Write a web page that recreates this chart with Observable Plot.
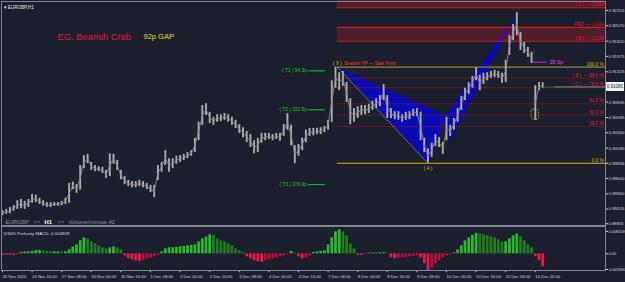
<!DOCTYPE html>
<html><head><meta charset="utf-8">
<script src="https://cdn.jsdelivr.net/npm/d3@7"></script>
<script src="https://cdn.jsdelivr.net/npm/@observablehq/plot@0.6"></script>
<style>
html,body{margin:0;padding:0;background:#1b1f2e;}
#wrap{position:relative;width:625px;height:282px;background:#1b1f2e;overflow:hidden;font-family:"Liberation Sans",Arial,sans-serif}
#main{position:absolute;left:0;top:0}
#macd{position:absolute;left:0;top:226px}
.frame{position:absolute;border:1px solid #7d838f;pointer-events:none}
#pbox{position:absolute;left:606px;width:18px;height:9px;background:#f2f2f2;color:#1b1f2e;font-size:4.5px;line-height:9px;text-align:center}
</style></head><body>
<div id="wrap">
  <div id="main"></div>
  <div id="macd"></div>
  <div class="frame" style="left:1px;top:1px;width:603px;height:223px"></div>
  <div class="frame" style="left:1px;top:226px;width:603px;height:43px"></div>
  <div id="pbox"></div>
</div>
<script>
// ---------- DATA ----------
// hourly bars, one entry every 2 bars (bar index = 2*i), 26 Nov 2020 00:00 .. 14 Dec 2020
const priceHigh = [
.8908,.8910,.8913,.8916,.8924,.8926,.8923,.8926,.8934,.8933,
.8928,.8924,.8921,.8921,.8921,.8921,.8923,.8928,.8952,.8954,
.8950,.8981,.8997,.8999,.8986,.8981,.8979,.8978,.8973,.9000,
.8999,.8989,.8973,.8963,.8957,.8955,.8955,.8957,.8955,.8952,
.8949,.8949,.8981,.8986,.9005,.8992,.8992,.8996,.8997,.8999,
.9002,.9005,.9025,.9051,.9078,.9081,.9067,.9059,.9063,.9063,
.9065,.9063,.9059,.9054,.9047,.9042,.9036,.9031,.9021,.9025,
.9033,.9033,.9033,.9031,.9033,.9033,.9047,.9065,.9046,.9013,
.9015,.9025,.9038,.9041,.9041,.9041,.9042,.9044,.9054,.9118,
.9140,.9131,.9133,.9115,.9089,.9073,.9076,.9078,.9078,.9080,
.9085,.9089,.9094,.9112,.9094,.9073,.9068,.9068,.9063,.9067,
.9068,.9072,.9073,.9067,.9025,.9008,.9017,.9031,.9026,.9018,
.9059,.9046,.9057,.9073,.9093,.9106,.9115,.9125,.9139,.9127,
.9130,.9131,.9133,.9135,.9133,.9130,.9151,.9191,.9209,.9228,
.9196,.9180,.9172,.9164,.9110,.9115,.9115];
const priceLow = [
.8900,.8902,.8903,.8907,.8910,.8911,.8910,.8913,.8920,.8921,
.8918,.8915,.8913,.8913,.8915,.8915,.8916,.8918,.8920,.8942,
.8936,.8941,.8976,.8984,.8973,.8971,.8971,.8968,.8960,.8963,
.8983,.8973,.8958,.8950,.8947,.8945,.8945,.8947,.8945,.8942,
.8937,.8929,.8957,.8970,.8981,.8970,.8976,.8983,.8986,.8989,
.8992,.8996,.9002,.9021,.9046,.9062,.9049,.9046,.9051,.9052,
.9054,.9051,.9046,.9041,.9033,.9026,.9018,.9010,.9000,.9002,
.9017,.9021,.9023,.9021,.9023,.9020,.9028,.9038,.9013,.8984,
.8996,.9005,.9018,.9028,.9029,.9031,.9031,.9034,.9038,.9051,
.9106,.9102,.9109,.9083,.9047,.9051,.9057,.9062,.9063,.9065,
.9070,.9073,.9076,.9086,.9057,.9057,.9055,.9054,.9051,.9054,
.9055,.9060,.9060,.9021,.9002,.89846,.8994,.9012,.9010,.8999,
.9021,.9028,.9038,.9051,.9070,.9086,.9096,.9106,.9118,.9102,
.9112,.9118,.9122,.9123,.9122,.9114,.9115,.9159,.9183,.9191,
.9167,.9162,.9156,.9146,.9054,.9102,.9106];
const macdValues = [
-0.00053,-0.00053,-0.00053,-0.00053,-0.00035,0.00053,0.0007,0.0007,0.00088,0.00116,
0.00116,0.00106,0.00081,0.0007,0.0007,0.0007,0.00063,0.0007,0.00141,0.00246,
0.00317,0.00458,0.00563,0.00528,0.00422,0.00352,0.00282,0.00211,0.00176,0.00211,
0.00246,0.00211,0.00141,-0.0007,-0.00176,-0.00211,-0.00246,-0.00264,-0.00229,-0.00176,
-0.00141,-0.00106,-0.00053,0.0007,0.00176,0.00211,0.00211,0.00229,0.00246,0.00264,
0.00282,0.00299,0.00317,0.00422,0.00528,0.00598,0.00669,0.00634,0.00528,0.00458,
0.00422,0.00352,0.00282,0.00176,0.00106,0.00053,-0.00106,-0.00176,-0.00246,-0.00282,
-0.00299,-0.00246,-0.00211,-0.00176,-0.00141,-0.00106,-0.0007,-0.00035,0.00088,0.00035,
-0.00106,-0.00176,-0.00141,-0.0007,0.00053,0.0007,0.00088,0.00106,0.00317,0.00563,
0.00774,0.00845,0.00774,0.00634,0.00352,0.00176,-0.00053,-0.00053,-0.00028,0.00028,
0.00028,0.00028,0.00035,0.00042,0.00018,-0.00141,-0.00176,-0.00158,-0.00141,-0.00123,
-0.00106,-0.00088,-0.0007,-0.00141,-0.00352,-0.00595,-0.00493,-0.00352,-0.00246,-0.00141,
-0.0007,-0.00035,0.00035,0.00141,0.00282,0.00458,0.00563,0.00651,0.00722,0.00704,
0.00669,0.00634,0.00598,0.00563,0.00493,0.00422,0.00422,0.00528,0.00634,0.00704,
0.00598,0.00458,0.00317,0.00211,-0.00106,-0.00246,-0.00458];
const timeLabels = ["26 Nov 2020","26 Nov 16:00","27 Nov 08:00","30 Nov 00:00","30 Nov 16:00",
"1 Dec 08:00","2 Dec 00:00","2 Dec 16:00","3 Dec 08:00","4 Dec 00:00","4 Dec 16:00",
"7 Dec 08:00","8 Dec 00:00","8 Dec 16:00","9 Dec 08:00","10 Dec 00:00","10 Dec 16:00",
"11 Dec 08:00","14 Dec 00:00"];
const priceTicks = [0.92316,0.92070,0.91820,0.91575,0.91325,0.90835,0.90585,0.90340,
0.90090,0.89846,0.89600,0.89350,0.89105,0.88855];
const macdTicks = [0.008459, 0, -0.005946];
const macdTickText = ["0.008459","0.00","-0.005946"];
// harmonic pattern points X, A, B, C, D
const patternNames = ["X","A","B","C","D"];
const patternBars = [181, 230, 239.5, 241.6, 278];
const patternPrices = [0.9140, 0.89846, 0.9062, 0.9021, 0.9228];
const fibRatios = [1.618, 1.414, 1.27, 1, 0.886, 0.786, 0.618, 0.5, 0.382, 0];
const fibLabels = ["[ C ]  \u2014 1.618","PRZ  \u2014 1.414","[ B ]  \u2014 1.270","100.0 %",
"[ B ]  \u2014 88.6 %","[ C ]  \u2014 78.6 %","61.8 %","50.0 %","38.2 %","0.0 %"];
const targetNames = ["T1","T2","T3"];
const targetPips = [94.3, 152.5, 278.9];
const targetPrices = [0.9134, 0.9071, 0.8950];
const lastPrice = 0.91080;
const gapPips = 38.9, gapPrice = 0.9148;
const mondayOpenLow = 0.9055, mondayOpenHigh = 0.9071;

// ---------- BUILD ----------
const xDomain = [-1.08, 325.95];
const yDomain = [0.88823, 0.92478];
const font = "Liberation Sans, Arial, sans-serif";
const bars = priceHigh.map((h, i) => ({bar: i * 2, hi: h, lo: priceLow[i], seg: i * 2 >= 288 ? 1 : 0}));
const macd = macdValues.map((v, i) => ({bar: i * 2, v, prev: i ? macdValues[i - 1] : v}));
const XP = patternPrices[0], AP = patternPrices[1];
const fibs = fibRatios.map((r, i) => ({r, price: AP + r * (XP - AP), label: fibLabels[i]}));
const tri = [0,1,2].map(i => ({t: 1, bar: patternBars[i], p: patternPrices[i]}))
  .concat([2,3,4].map(i => ({t: 2, bar: patternBars[i], p: patternPrices[i]})));
const targets = targetNames.map((n, i) => ({price: targetPrices[i], text: `( ${n} ) ${targetPips[i]}p`}));
const zones = [{lo: AP + 1.27 * (XP - AP), hi: AP + 1.414 * (XP - AP)}, {lo: AP + 1.618 * (XP - AP), hi: yDomain[1]}];
const xEnd = xDomain[1];
const Xbar = patternBars[0];
const redC = "#e01c2a", yel = "#d6bc00";

const main = Plot.plot({
  width: 625, height: 226,
  marginLeft: 0, marginRight: 20, marginTop: 0, marginBottom: 0,
  style: {background: "transparent", color: "#cfd2d8", fontFamily: font, fontSize: "4.4px", overflow: "visible"},
  x: {domain: xDomain, axis: null, label: null},
  y: {domain: yDomain, axis: null, label: null},
  marks: [
    Plot.line(tri, {x: "bar", y: "p", z: "t", fill: "#0b0cb4", stroke: "#0b0cb4", strokeWidth: 0.6}),
    Plot.rect(zones, {x1: Xbar, x2: xEnd, y1: "lo", y2: "hi", fill: "#c2182c", fillOpacity: 0.32}),
    Plot.ruleY(fibs.filter(d => d.r > 1), {y: "price", x1: Xbar, x2: xEnd, stroke: "#d21a22", strokeWidth: 1.1}),
    Plot.ruleY(fibs.filter(d => d.r > 0 && d.r < 1), {y: "price", x1: Xbar, x2: xEnd, stroke: "#cc1a22", strokeWidth: 0.8, strokeDasharray: "1.6,1.6"}),
    Plot.ruleY(fibs.filter(d => d.r === 1), {y: "price", x1: Xbar, x2: xEnd, stroke: "#8f8438", strokeWidth: 1.2}),
    Plot.ruleY(fibs.filter(d => d.r === 0), {y: "price", x1: Xbar, x2: xEnd, stroke: yel, strokeWidth: 1.1}),
    Plot.line([0,1].map(i => ({bar: patternBars[i], p: patternPrices[i]})), {x: "bar", y: "p", stroke: yel, strokeWidth: 0.8, strokeDasharray: "1,1.6"}),
    Plot.ruleX(bars, {x: "bar", y1: "lo", y2: "hi", stroke: "#ababab", strokeWidth: 1.9}),
    Plot.line(bars, {x: "bar", y: d => (d.hi + d.lo) / 2, z: "seg", stroke: "#8a8a8a", strokeWidth: 0.9}),
    Plot.text(fibs, {x: xEnd, y: "price", text: "label", textAnchor: "end", dx: -2, dy: -3,
      fill: d => (d.r === 1 || d.r === 0) ? yel : redC, fontSize: 4.6}),
    Plot.ruleY(targets, {y: "price", x1: 165.5, x2: 174.5, stroke: "#1ec81e", strokeWidth: 1}),
    Plot.text(targets, {x: 164.5, y: "price", text: "text", textAnchor: "end", fill: "#1ec81e", fontSize: 4.8}),
    Plot.text(["( X )"], {x: Xbar, y: XP, dy: -4, text: d => d, fill: yel, fontSize: 4.8}),
    Plot.text(["Bearish HP \u2014 Start Point"], {x: Xbar + 3.8, y: XP, dy: -4, text: d => d, textAnchor: "start", fill: "#ff3a22", fontSize: 4.6}),
    Plot.text(["( A )"], {x: patternBars[1], y: AP, dy: 5, text: d => d, fill: yel, fontSize: 4.8}),
    Plot.ruleY([gapPrice], {x1: 287, x2: 294.5, stroke: "#9b30c8", strokeWidth: 1.2}),
    Plot.text([gapPips + "p"], {x: 295.5, y: gapPrice, text: d => d, textAnchor: "start", fill: "#e03ce6", fontSize: 5.6}),
    Plot.rect([{}], {x1: 286, x2: 290, y1: mondayOpenLow, y2: mondayOpenHigh, fill: "none", stroke: yel, strokeWidth: 0.8, strokeDasharray: "1.4,1.1", rx: 1.5}),
    Plot.ruleY([lastPrice], {x1: 290, x2: 298.5, stroke: "#2aa82a", strokeWidth: 1, strokeDasharray: "1,1"}),
    Plot.ruleY([lastPrice], {x1: 298.5, x2: xEnd, stroke: "#8c8c8c", strokeWidth: 1}),
    Plot.axisY({anchor: "right", label: null, ticks: priceTicks.slice(0, -1), tickFormat: d => d.toFixed(5), tickSize: 2, tickPadding: 1, fontSize: 4.4}),
    Plot.axisY({anchor: "right", label: null, ticks: priceTicks.slice(-1), tickFormat: d => d.toFixed(5), tickSize: 2, tickPadding: 1, fontSize: 4.2, dy: -0.8}),
    Plot.text(["\u25BE EURGBP,H1"], {frameAnchor: "top-left", dx: 3, dy: 5, text: d => d, textAnchor: "start", fill: "#e6e6e6", fontSize: 4.6}),
    Plot.text(["EG. Bearish Crab"], {frameAnchor: "top-left", dx: 57, dy: 33, text: d => d, textAnchor: "start", fill: "#e5173d", fontSize: 9.4}),
    Plot.text(["92p GAP"], {frameAnchor: "top-left", dx: 143, dy: 33, text: d => d, textAnchor: "start", fill: "#e2e21a", fontSize: 7.5}),
    Plot.text(["EURGBP"], {frameAnchor: "top-left", dx: 5, dy: 219.5, text: d => d, textAnchor: "start", fill: "#8d929c", fontSize: 5.6}),
    Plot.text(["<<"], {frameAnchor: "top-left", dx: 33, dy: 219.5, text: d => d, textAnchor: "start", fill: "#8d929c", fontSize: 5.6}),
    Plot.text(["H1"], {frameAnchor: "top-left", dx: 44, dy: 219.5, text: d => d, textAnchor: "start", fill: "#ffffff", fontWeight: "bold", fontSize: 5.8}),
    Plot.text([">>"], {frameAnchor: "top-left", dx: 57, dy: 219.5, text: d => d, textAnchor: "start", fill: "#8d929c", fontSize: 5.6}),
    Plot.text(["Volume/minute,42"], {frameAnchor: "top-left", dx: 68, dy: 219.5, text: d => d, textAnchor: "start", fill: "#8d929c", fontSize: 5.8})
  ]
});
document.getElementById("main").appendChild(main);

const macdPlot = Plot.plot({
  width: 625, height: 56,
  marginLeft: 0, marginRight: 20, marginTop: 0, marginBottom: 11.8,
  style: {background: "transparent", color: "#cfd2d8", fontFamily: font, fontSize: "4.2px", overflow: "visible"},
  x: {domain: xDomain, axis: null, label: null},
  y: {domain: [-0.005946, 0.00962], axis: null, label: null},
  marks: [
    Plot.ruleX(macd, {x: "bar", y1: 0, y2: "v", strokeWidth: 2.8,
      stroke: d => d.v >= 0 ? (d.v >= d.prev ? "#2db52d" : "#1f7a22") : (d.v <= d.prev ? "#f0164a" : "#b8123c")}),
    Plot.axisY({anchor: "right", label: null, ticks: macdTicks.slice(0, 1), tickFormat: () => macdTickText[0], tickSize: 2, tickPadding: 1, fontSize: 3.9, dy: 1.6}),
    Plot.axisY({anchor: "right", label: null, ticks: macdTicks.slice(1, 2), tickFormat: () => macdTickText[1], tickSize: 2, tickPadding: 1, fontSize: 3.9}),
    Plot.axisY({anchor: "right", label: null, ticks: macdTicks.slice(2), tickFormat: () => macdTickText[2], tickSize: 2, tickPadding: 0.4, fontSize: 3.75, dy: -1.2}),
    Plot.axisX({anchor: "bottom", label: null, ticks: timeLabels.map((_, i) => i * 16), tickFormat: (d, i) => timeLabels[i],
      tickSize: 2, tickPadding: 2, textAnchor: "start", fontSize: 4.2}),
    Plot.text(["5/34/5 Profunity MACD -0.004928"], {frameAnchor: "top-left", dx: 3, dy: 5, text: d => d, textAnchor: "start", fill: "#d8d8d8", fontSize: 4.4})
  ]
});
document.getElementById("macd").appendChild(macdPlot);

const box = document.getElementById("pbox");
box.textContent = lastPrice.toFixed(5);
box.style.top = (main.scale("y").apply(lastPrice) - 4.5) + "px";
</script>
</body></html>
